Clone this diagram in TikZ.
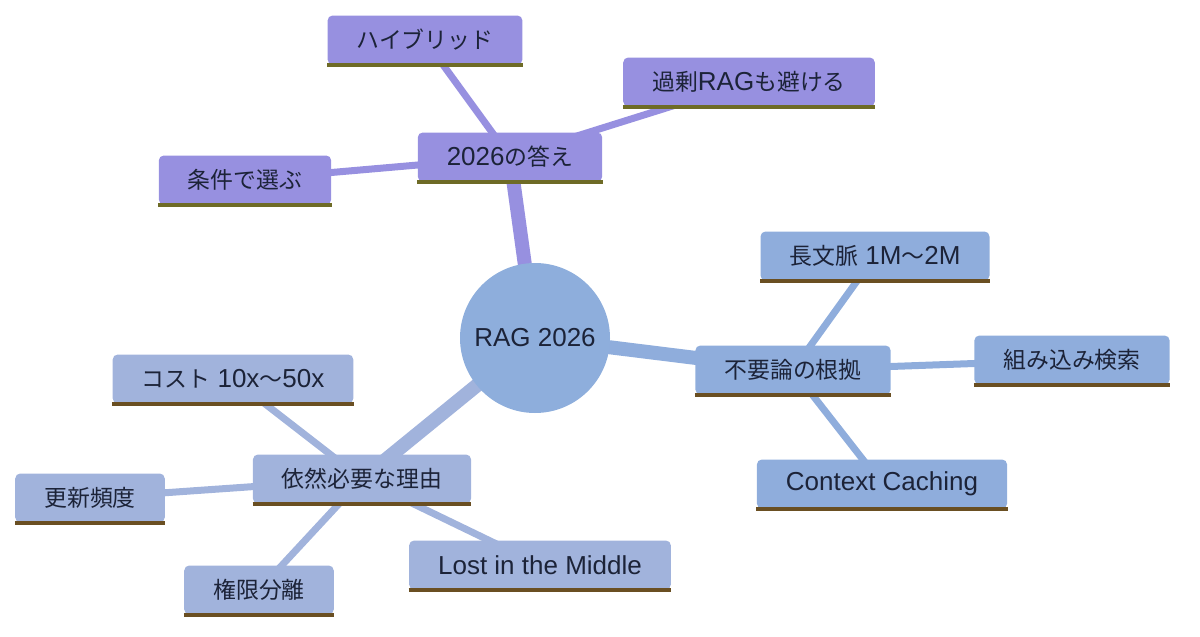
\documentclass[tikz,border=0pt]{standalone}
\usepackage{fontspec}
\setmainfont{Liberation Sans}
\newfontfamily\jpfont[Scale=0.88]{Noto Sans CJK JP}
\usetikzlibrary{backgrounds}

\definecolor{rootblue}{HTML}{8EAEDC}
\definecolor{purp}{HTML}{9790E0}
\definecolor{skyblue}{HTML}{8FADDC}
\definecolor{slate}{HTML}{A1B3DC}
\definecolor{olivebar}{HTML}{6E6B26}
\definecolor{brownbar}{HTML}{6A4F22}
\definecolor{inktext}{HTML}{1C2338}

\tikzset{
  idea/.style={rounded corners=2.5pt, inner xsep=14.5pt, minimum height=24.5pt,
    text=inktext, font=\fontsize{13}{15}\selectfont},
  trunk/.style={line width=7pt},
  twig/.style={line width=3.5pt},
  barline/.style={line width=2pt}
}

\begin{document}
\begin{tikzpicture}[x=0.5pt, y=-0.5pt]
\useasboundingbox (0,0) rectangle (1200,637);

% root
\node[circle, fill=rootblue, minimum size=75pt, text=inktext,
  font=\fontsize{13}{15}\selectfont] (root) at (535,338) {RAG 2026};

% 2026 answer branch
\node[idea, fill=purp] (ans)  at (510,157) {2026{\jpfont の答え}};
\node[idea, fill=purp] (hyb)  at (425,40)  {\jpfont ハイブリッド};
\node[idea, fill=purp] (over) at (749,82)  {{\jpfont 過剰}RAG{\jpfont も避ける}};
\node[idea, fill=purp] (cond) at (245,180) {\jpfont 条件で選ぶ};

% not-needed branch
\node[idea, fill=skyblue] (noneed) at (793,370) {\jpfont 不要論の根拠};
\node[idea, fill=skyblue] (long)   at (875,256) {{\jpfont 長文脈} 1M{\jpfont 〜}2M};
\node[idea, fill=skyblue] (embed)  at (1072,360) {\jpfont 組み込み検索};
\node[idea, fill=skyblue] (cache)  at (882,484) {Context Caching};

% still-needed branch
\node[idea, fill=slate] (need) at (362,479) {\jpfont 依然必要な理由};
\node[idea, fill=slate] (cost) at (233,379) {{\jpfont コスト} 10x{\jpfont 〜}50x};
\node[idea, fill=slate] (upd)  at (90,498)  {\jpfont 更新頻度};
\node[idea, fill=slate] (perm) at (259,590) {\jpfont 権限分離};
\node[idea, fill=slate] (lost) at (540,565) {Lost in the Middle};

% bottom bars
\foreach \n in {ans,hyb,over,cond}
  \draw[barline, olivebar] (\n.south west) -- (\n.south east);
\foreach \n in {noneed,long,embed,cache,need,cost,upd,perm,lost}
  \draw[barline, brownbar] (\n.south west) -- (\n.south east);

% connectors
\begin{scope}[on background layer]
\draw[trunk, purp] (root.center) -- (ans.center);
\draw[trunk, skyblue] (root.center) -- (noneed.center);
\draw[trunk, slate] (root.center) -- (need.center);

\foreach \n in {hyb,over,cond}
  \draw[twig, purp] (ans.center) -- (\n.center);
\foreach \n in {long,embed,cache}
  \draw[twig, skyblue] (noneed.center) -- (\n.center);
\foreach \n in {cost,upd,perm,lost}
  \draw[twig, slate] (need.center) -- (\n.center);
\end{scope}

\end{tikzpicture}
\end{document}
